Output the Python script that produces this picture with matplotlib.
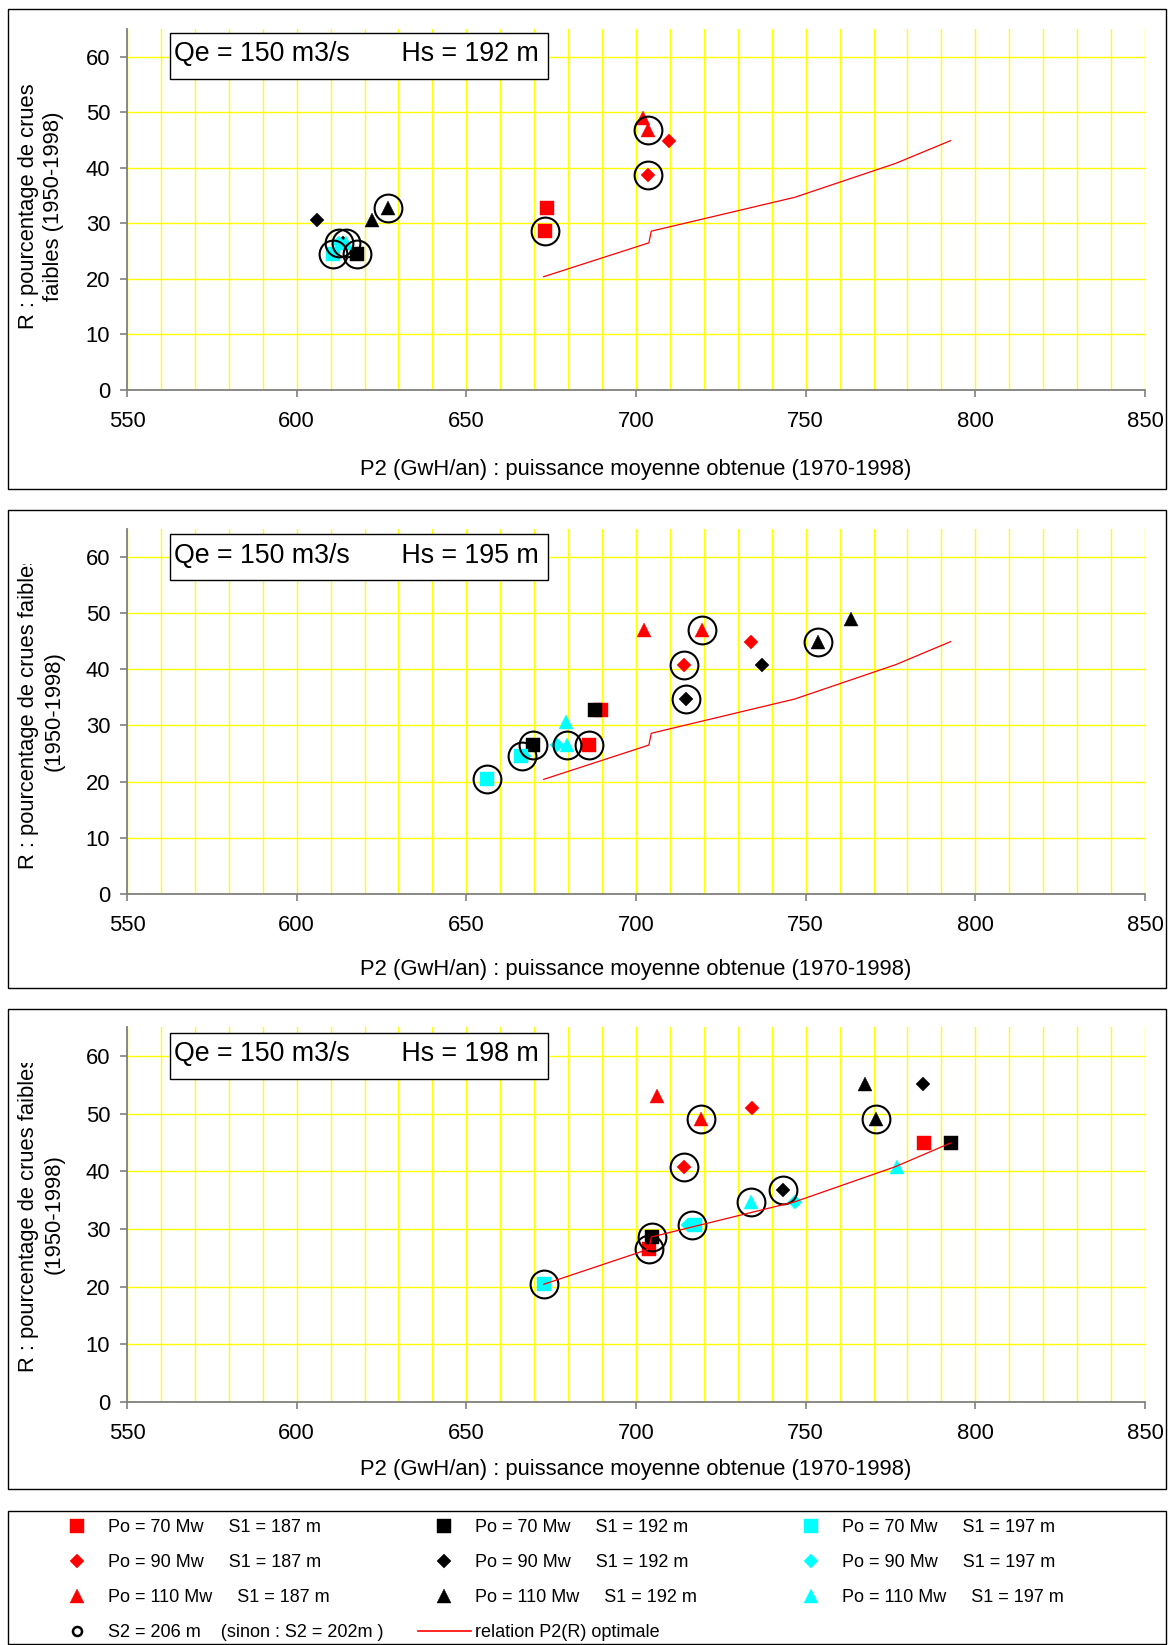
import matplotlib.pyplot as plt
from matplotlib.lines import Line2D
from matplotlib.patches import Rectangle
from matplotlib.transforms import Bbox, TransformedBbox

plt.rcParams['font.family'] = ['Liberation Sans', 'DejaVu Sans']

## Data : one list per panel (Hs = 192, 195, 198 m)
hs_values = [192, 195, 198]

# Po = 70 Mw (squares)
sq187_x = [[673.9, 673.1], [686.1, 689.7], [703.9, 785.0]]
sq187_y = [[32.7, 28.6], [26.5, 32.7], [26.5, 44.9]]
sq192_x = [[617.8], [669.6, 687.9], [704.6, 792.8]]
sq192_y = [[24.5], [26.5, 32.7], [28.6, 44.9]]
sq197_x = [[610.8], [656.2, 666.0], [672.8, 717.4]]
sq197_y = [[24.5], [20.4, 24.5], [20.4, 30.6]]

# Po = 90 Mw (diamonds)
di187_x = [[709.8, 703.6], [714.1, 733.8], [714.1, 734.3]]
di187_y = [[44.9, 38.8], [40.8, 44.9], [40.8, 51.0]]
di192_x = [[606.1, 613.8], [714.8, 737.0], [743.2, 784.7]]
di192_y = [[30.6, 26.5], [34.7, 40.8], [36.7, 55.1]]
di197_x = [[612.6], [666.9, 676.6], [715.4, 746.8]]
di197_y = [[26.5], [24.5, 26.5], [30.6, 34.7]]

# Po = 110 Mw (triangles)
tr187_x = [[702.2, 703.5], [702.3, 719.5], [706.1, 719.3]]
tr187_y = [[49.0, 46.9], [46.9, 46.9], [53.1, 49.0]]
tr192_x = [[622.1, 626.9], [753.7, 763.4], [767.4, 770.6]]
tr192_y = [[30.6, 32.7], [44.9, 49.0], [55.1, 49.0]]
tr197_x = [[614.6], [679.3, 679.7], [733.8, 776.8]]
tr197_y = [[26.5], [30.6, 26.5], [34.7, 40.8]]

# S2 = 206 m (circled points)
s206_x = [[673.1, 703.6, 703.5, 626.9, 610.8, 612.6, 614.6, 617.8],
          [656.2, 666.3, 669.6, 679.7, 686.1, 714.1, 714.8, 719.5, 753.7],
          [672.8, 703.9, 704.6, 716.4, 714.1, 719.3, 733.8, 743.2, 770.6]]
s206_y = [[28.6, 38.8, 46.9, 32.7, 24.5, 26.5, 26.5, 24.5],
          [20.4, 24.5, 26.5, 26.5, 26.5, 40.8, 34.7, 46.9, 44.9],
          [20.4, 26.5, 28.6, 30.6, 40.8, 49.0, 34.7, 36.7, 49.0]]

# relation P2(R) optimale
opt_x = [672.8, 703.8, 704.5, 746.8, 776.5, 792.7]
opt_y = [20.4, 26.5, 28.6, 34.7, 40.8, 44.9]

labels_187 = ['Po = 70 Mw     S1 = 187 m', 'Po = 90 Mw     S1 = 187 m',
              'Po = 110 Mw     S1 = 187 m']
labels_192 = ['Po = 70 Mw     S1 = 192 m', 'Po = 90 Mw     S1 = 192 m',
              'Po = 110 Mw     S1 = 192 m']
labels_197 = ['Po = 70 Mw     S1 = 197 m', 'Po = 90 Mw     S1 = 197 m',
              'Po = 110 Mw     S1 = 197 m']
label_s2 = 'S2 = 206 m    (sinon : S2 = 202m )'
label_opt = 'relation P2(R) optimale'

## Styles
RED, BLACK, CYAN = '#FF0000', '#000000', '#00FFFF'
shape = {'s': 9.8, 'D': 7.3, '^': 10.5}
series = [(sq187_x, sq187_y, 's', RED), (sq192_x, sq192_y, 's', BLACK), (sq197_x, sq197_y, 's', CYAN),
          (di187_x, di187_y, 'D', RED), (di192_x, di192_y, 'D', BLACK), (di197_x, di197_y, 'D', CYAN),
          (tr187_x, tr187_y, '^', RED), (tr192_x, tr192_y, '^', BLACK), (tr197_x, tr197_y, '^', CYAN)]

W, H = 1170, 1645
fig = plt.figure(figsize=(W / 100, H / 100), dpi=100)


def fx(px):
    return px / W


def fy(py):
    return 1 - py / H


frame_top = [9, 510, 1009]
frame_bot = [489, 988, 1489]
ax_top = [29, 528.7, 1027]
ax_bot = [390, 894, 1402]
FS = 15.8

for i, hs in enumerate(hs_values):
    ft = frame_top[i]
    ax = fig.add_axes([fx(127), fy(ax_bot[i]), (1145 - 127) / W, (ax_bot[i] - ax_top[i]) / H])
    ax.set_xlim(550, 850)
    ax.set_ylim(0, 65)
    ax.set_xticks(range(550, 851, 50))
    ax.set_xticks(range(560, 851, 10), minor=True)
    ax.set_yticks(range(0, 61, 10))
    ax.grid(True, which='both', axis='x', color='#FFFF00', lw=1.0)
    ax.grid(True, which='major', axis='y', color='#FFFF00', lw=1.0)
    ax.set_axisbelow(True)
    for s in ['top', 'right']:
        ax.spines[s].set_visible(False)
    for s in ['left', 'bottom']:
        ax.spines[s].set_color('#808080')
        ax.spines[s].set_linewidth(1.3)
    ax.tick_params(which='major', direction='out', length=5, width=1.2, color='#808080', labelsize=FS)
    ax.tick_params(axis='x', pad=10)
    ax.tick_params(axis='y', pad=7)
    ax.tick_params(which='minor', length=0)

    for xs, ys, m, c in series:
        ax.plot(xs[i], ys[i], ls='none', marker=m, ms=shape[m], color=c, mec=c, mew=0.3, clip_on=False)
    ax.plot(s206_x[i], s206_y[i], ls='none', marker='o', ms=20, mfc='none', mec='black', mew=1.5, clip_on=False)
    ax.plot(opt_x, opt_y, color=RED, lw=0.9)

    # frame around the panel
    fig.add_artist(Rectangle((fx(8), fy(frame_bot[i])), (1166 - 8) / W, (frame_bot[i] - ft) / H,
                             transform=fig.transFigure, fill=False, ec='black', lw=1.0))
    # title box
    fig.add_artist(Rectangle((fx(170), fy(ft + 70)), (548 - 170) / W, 46 / H,
                             transform=fig.transFigure, fc='white', ec='black', lw=1.0))
    fig.text(fx(174), fy(ft + 45.5), 'Qe = 150 m3/s       Hs = %d m' % hs,
             fontsize=19.3, ha='left', va='center')

    fig.text(fx(636), fy(ft + 460), 'P2 (GwH/an) : puissance moyenne obtenue (1970-1998)',
             fontsize=FS, ha='center', va='center')
    yc = (ax_top[i] + ax_bot[i]) / 2
    if i == 0:
        fig.text(fx(41), fy(yc - 3), 'R : pourcentage de crues\nfaibles (1950-1998)', rotation=90,
                 fontsize=FS, ha='center', va='center', multialignment='center', linespacing=1.3)
    else:
        # long first line, cut off at the top as in the original
        t = fig.text(fx(41), fy(yc), 'R : pourcentage de crues faibles\n(1950-1998)', rotation=90,
                     fontsize=FS, ha='center', va='center', multialignment='center', linespacing=1.3)
        t.set_clip_box(TransformedBbox(Bbox([[0, fy(frame_bot[i])], [1, fy(ft + 54)]]), fig.transFigure))
        t.set_clip_on(True)

## Legend
fig.add_artist(Rectangle((fx(8), fy(1644)), (1166 - 8) / W, (1644 - 1511) / H,
                         transform=fig.transFigure, fill=False, ec='black', lw=1.0))


def mk(m, c):
    return Line2D([], [], ls='none', marker=m, ms=shape[m], color=c, mec=c, mew=0.3)


cols = [
    ([mk('s', RED), mk('D', RED), mk('^', RED),
      Line2D([], [], ls='none', marker='o', ms=6.5, mfc='none', mec='black', mew=1.8)],
     labels_187 + [label_s2], 50.7),
    ([mk('s', BLACK), mk('D', BLACK), mk('^', BLACK), Line2D([], [], color=RED, lw=1.2)],
     labels_192 + [label_opt], 418.3),
    ([mk('s', CYAN), mk('D', CYAN), mk('^', CYAN)], labels_197, 785),
]
for handles, labels, x0 in cols:
    fig.legend(handles, labels, loc='upper left', bbox_to_anchor=(fx(x0), fy(1519.3)),
               frameon=False, borderpad=0, borderaxespad=0, handlelength=2.9,
               handletextpad=0.25, labelspacing=1.0, numpoints=1, fontsize=13)

plt.savefig('out.png', dpi=100)
